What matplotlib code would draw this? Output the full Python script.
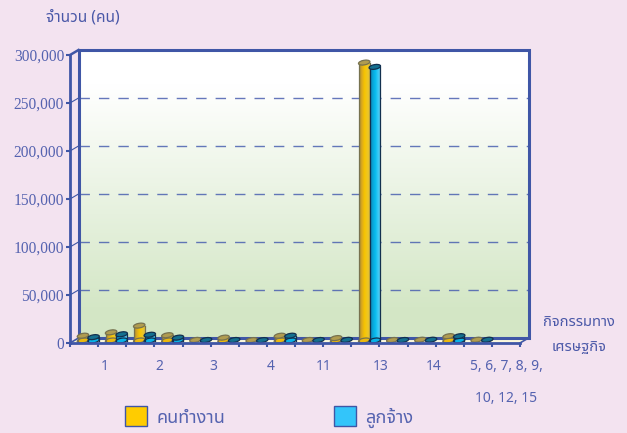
import numpy as np
import matplotlib
matplotlib.use('Agg')
import matplotlib.pyplot as plt
from matplotlib.colors import LinearSegmentedColormap
from matplotlib.patches import Ellipse, Polygon, Rectangle
from matplotlib.transforms import Affine2D

# ค่าจากภาพ (16 ช่อง)
workers = [5000, 8500, 15500, 5500, 600, 3000, 400, 5000, 500, 2500, 289500, 500, 800, 4500, 800, 0]
employees = [3500, 6500, 6000, 3000, 500, 500, 400, 5000, 500, 700, 285000, 500, 800, 4500, 800, 0]
y_ticks = [0, 50000, 100000, 150000, 200000, 250000, 300000]
x_labels = ['1', '2', '3', '4', '11', '13', '14', '5, 6, 7, 8, 9,']
x_label_pos = [1.24, 3.16, 5.08, 7.15, 9.03, 11.06, 12.94, 15.5]

BG = '#f3e3f0'
NAVY = '#3f56a6'
TXT = '#5563b0'
THAI = ['Noto Sans Thai', 'Noto Sans', 'DejaVu Sans']

fig = plt.figure(figsize=(6.27, 4.33), dpi=100, facecolor=BG)
ax = fig.add_axes([70 / 627, 1 - 343 / 433, 450 / 627, 288 / 433], facecolor='none')

# image pixel coordinates, for the text and frame around the plot
px = Affine2D().scale(1, -1).translate(0, 433)
back = ax.transData + Affine2D().translate(8.5, 5)
mid = ax.transData + Affine2D().translate(4.2, 2.5)


def reset_limits():
    # imshow changes the limits each time
    ax.set_xlim(0, 16)
    ax.set_ylim(0, 300000)


reset_limits()

# back wall
grad = np.linspace(0, 1, 256)
grad = np.clip((grad - 0.12) / 0.78, 0, 1)[:, None, None]
white = np.array([1.0, 1.0, 1.0])
green = np.array([0.83, 0.905, 0.775])
wall = white * (1 - grad) + green * grad
ax.imshow(wall, extent=(0, 16, 0, 300000), aspect='auto', transform=back, origin='upper',
          zorder=1, clip_on=False)
reset_limits()

# floor
floor = Polygon([(70, 343), (520, 343), (528.5, 338), (78.5, 338)], closed=True, transform=px,
                facecolor='#fbf8dc', edgecolor='none', zorder=1.5, clip_on=False)
ax.add_patch(floor)

# dashed grid on wall + the little diagonals on the side
for v in y_ticks[1:-1]:
    ax.plot([0, 16], [v, v], transform=back, color='#4a60b0', lw=1.0, ls=(0, (7.5, 6.5)), alpha=0.85,
            zorder=2, clip_on=False)
    x0, y0 = ax.transData.transform((0, v))
    ax.plot([x0, x0 + 8.5], [433 - y0, 433 - y0 - 5], transform=px, color=NAVY, lw=0.8, zorder=2, clip_on=False)

# frame
ax.plot([0, 0, 16, 16, 0], [0, 300000, 300000, 0, 0], transform=back, color=NAVY, lw=2.2,
        zorder=3, clip_on=False, solid_joinstyle='miter')
ax.plot([70, 78.5], [55, 50], transform=px, color=NAVY, lw=1.8, zorder=3, clip_on=False)
ax.plot([70, 78.5], [343, 338], transform=px, color=NAVY, lw=1.2, zorder=3, clip_on=False)
ax.plot([520, 528.5], [343, 338], transform=px, color=NAVY, lw=1.2, zorder=3, clip_on=False)

yellow_cm = LinearSegmentedColormap.from_list('y', ['#a98a2c', '#d8a820', '#f7c400', '#f0c81e', '#dcbc40'])
blue_cm = LinearSegmentedColormap.from_list('b', ['#0d7fae', '#0aa4d8', '#08bcf0', '#3ccaf6', '#66c8ec'])
shade = np.linspace(0, 1, 64)[None, :]


def cylinder(x0, x1, value, cmap, top_col, edge, z):
    ell_w = 11.6
    ell_h = 4.6
    pts = mid.transform([(x0, 0), (x1, value)])
    xc = (pts[0, 0] + pts[1, 0]) / 2
    base = Affine2D().rotate_deg(10).translate(xc, pts[0, 1])
    top = Affine2D().rotate_deg(10).translate(xc, pts[1, 1])
    if pts[1, 1] - pts[0, 1] > 1:
        ax.imshow(shade, cmap=cmap, extent=(x0, x1, 0, value), aspect='auto', transform=mid,
                  zorder=z, clip_on=False)
        ax.add_patch(Ellipse((0, 0), ell_w, ell_h, transform=base, facecolor=cmap(0.4), edgecolor=edge,
                             lw=0.9, zorder=z, clip_on=False))
        ax.plot([x0, x0], [0, value], transform=mid, color=edge, lw=0.9, zorder=z + 0.01, clip_on=False)
        ax.plot([x1, x1], [0, value], transform=mid, color=edge, lw=0.9, zorder=z + 0.01, clip_on=False)
    ax.add_patch(Ellipse((0, 0), ell_w, ell_h, transform=top, facecolor=top_col, edgecolor=edge,
                         lw=0.9, zorder=z + 0.02, clip_on=False))


bw = 10.6 / 28.125
for i, (a, b) in enumerate(zip(workers, employees)):
    if i == 15:
        continue
    c = i + 0.5
    cylinder(c - bw, c, a, yellow_cm, '#b09c50', '#77724f', 4 + i * 0.1)
    cylinder(c, c + bw, b, blue_cm, '#15708f', '#12304f', 4.05 + i * 0.1)
reset_limits()

# axes
for s in ['top', 'right']:
    ax.spines[s].set_visible(False)
for s in ['left', 'bottom']:
    ax.spines[s].set_color(NAVY)
    ax.spines[s].set_linewidth(2.0)
    ax.spines[s].set_zorder(10)
ax.set_xticks(range(17))
ax.set_xticklabels([])
ax.set_yticks(y_ticks)
ax.set_yticklabels([f'{v:,}' for v in y_ticks], fontfamily='Liberation Serif', fontsize=11.2, color=TXT)
ax.tick_params(axis='both', color=NAVY, width=1.5, length=3.2)
ax.tick_params(axis='y', pad=1)

for lab, p in zip(x_labels, x_label_pos):
    xp = ax.transData.transform((p, 0))[0]
    ax.text(xp, 366, lab, transform=px, ha='center', va='center', fontsize=10, color=TXT,
            fontfamily='Noto Sans', clip_on=False)
ax.text(506, 398, '10, 12, 15', transform=px, ha='center', va='center', fontsize=10, color=TXT,
        fontfamily='Noto Sans', clip_on=False)

ax.text(83, 17, 'จำนวน (คน)', transform=px, ha='center', va='center', fontsize=11.2, color='#4a58a8',
        fontweight='bold', family=THAI, clip_on=False)
ax.text(579, 323, 'กิจกรรมทาง', transform=px, ha='center', va='center', fontsize=10.6, color='#4a58a8',
        fontweight='bold', family=THAI, clip_on=False)
ax.text(579, 347, 'เศรษฐกิจ', transform=px, ha='center', va='center', fontsize=10.6, color='#4a58a8',
        fontweight='bold', family=THAI, clip_on=False)

# legend
for x, col, lab in [(125, '#ffcc00', 'คนทำงาน'), (334, '#33c5fa', 'ลูกจ้าง')]:
    ax.add_patch(Rectangle((x, 406), 21.5, 20, transform=px, facecolor=col, edgecolor=NAVY, lw=1.0,
                           clip_on=False, zorder=5))
    ax.text(x + 31, 418, lab, transform=px, ha='left', va='center', fontsize=13, color=TXT,
            family=THAI, clip_on=False)

fig.savefig('out.png', dpi=100, facecolor=BG)
